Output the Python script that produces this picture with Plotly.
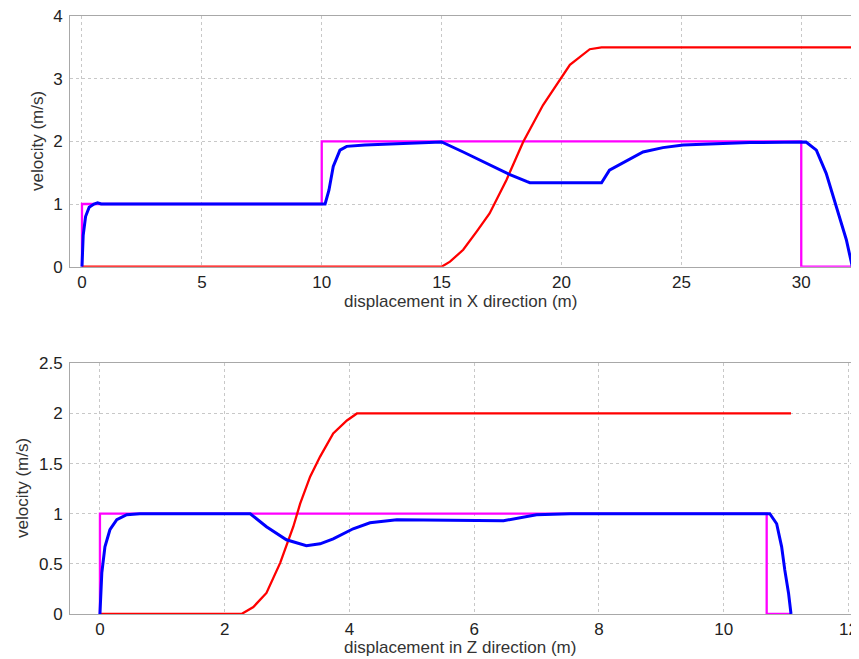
import plotly.graph_objects as go

# ---- Top panel (X direction) ----
x_ref_top = [0, 0, 10, 10, 30, 30, 32.15]
v_ref_top = [0, 1, 1, 2, 2, 0, 0]

x_red_top = [0, 15.0, 15.35, 15.9, 16.46, 17.0, 17.7, 18.4, 19.23, 20.07, 20.35, 21.18, 21.67, 32.15]
v_red_top = [0, 0, 0.08, 0.27, 0.56, 0.85, 1.38, 1.99, 2.58, 3.06, 3.22, 3.47, 3.5, 3.5]

x_blue_top = [0, 0.02, 0.05, 0.15, 0.3, 0.5, 0.65, 0.8, 10.14, 10.3, 10.48, 10.76, 11.04, 11.8, 14.5, 15.0,
              15.9, 16.6, 17.29, 17.85, 18.54, 18.68, 21.67, 22.0, 23.4, 24.23, 25.07, 27.85, 30.2, 30.63,
              31.04, 31.46, 31.88, 32.13]
v_blue_top = [0, 0.3, 0.5, 0.8, 0.95, 1.0, 1.02, 1.0, 1.0, 1.22, 1.6, 1.86, 1.92, 1.94, 1.98, 1.99,
              1.83, 1.70, 1.57, 1.47, 1.36, 1.34, 1.34, 1.54, 1.83, 1.90, 1.94, 1.98, 1.99, 1.86,
              1.49, 0.96, 0.43, 0.0]

# ---- Bottom panel (Z direction) ----
x_ref_bot = [0, 0, 10.69, 10.69, 11.07]
v_ref_bot = [0, 1, 1, 0, 0]

x_red_bot = [0, 2.27, 2.46, 2.67, 2.89, 3.10, 3.21, 3.37, 3.53, 3.74, 3.96, 4.12, 11.08]
v_red_bot = [0, 0, 0.07, 0.21, 0.51, 0.87, 1.10, 1.37, 1.57, 1.80, 1.93, 2.0, 2.0]

x_blue_bot = [0, 0.01, 0.03, 0.08, 0.16, 0.27, 0.43, 0.64, 2.41, 2.67, 2.99, 3.31, 3.53, 3.74, 4.06, 4.33,
              4.76, 6.47, 7.0, 7.54, 10.74, 10.85, 10.93, 10.98, 11.04, 11.08]
v_blue_bot = [0, 0.2, 0.41, 0.67, 0.84, 0.94, 0.99, 1.0, 1.0, 0.87, 0.74, 0.68, 0.70, 0.75, 0.85, 0.91,
              0.94, 0.93, 0.99, 1.0, 1.0, 0.90, 0.67, 0.44, 0.21, 0.0]

x_ticks_top = [0, 5, 10, 15, 20, 25, 30]
y_ticks_top = [0, 1, 2, 3, 4]
x_ticks_bot = [0, 2, 4, 6, 8, 10, 12]
y_ticks_bot = [0, 0.5, 1, 1.5, 2, 2.5]

MAG = "#ff00ff"
RED = "#ff0000"
BLUE = "#0000ff"

fig = go.Figure()
for xs, ys, c, w, xa, ya in [
    (x_ref_top, v_ref_top, MAG, 2.3, "x", "y"),
    (x_red_top, v_red_top, RED, 2.3, "x", "y"),
    (x_blue_top, v_blue_top, BLUE, 3, "x", "y"),
    (x_ref_bot, v_ref_bot, MAG, 2.3, "x2", "y2"),
    (x_red_bot, v_red_bot, RED, 2.3, "x2", "y2"),
    (x_blue_bot, v_blue_bot, BLUE, 3, "x2", "y2"),
]:
    fig.add_trace(go.Scatter(x=xs, y=ys, mode="lines", line=dict(color=c, width=w),
                             xaxis=xa, yaxis=ya, showlegend=False, hoverinfo="skip"))

# page has an 8px body margin: figure is offset by 8px
OFF = 8
W, H = 859 - OFF, 659 - OFF
L, T = 70 - OFF, 16 - OFF
R = W - (854 - OFF)
B = H - (614 - OFF)
PW, PH = W - L - R, H - T - B


def py(ypix):
    return (H - B - (ypix - OFF)) / PH


def px(xpix):
    return (xpix - OFF - L) / PW


top_dom = [py(266.7), 1.0]
bot_dom = [0.0, py(363.3)]

ax_common = dict(showgrid=True, gridcolor="#c8c8c8", griddash="dot", gridwidth=1,
                 showline=True, linecolor="#a8a8a8", linewidth=1, mirror=True,
                 zeroline=False, ticks="", ticklen=0, automargin=False,
                 ticklabeloverflow="allow",
                 tickfont=dict(family="Arial, Liberation Sans", size=17, color="#222"))

fig.update_layout(
    width=W, height=H,
    margin=dict(l=L, r=R, t=T, b=B),
    paper_bgcolor="white", plot_bgcolor="white",
    xaxis=dict(domain=[0, 1], range=[-0.5, 32.2], tickvals=x_ticks_top, anchor="y",
               ticklabelstandoff=0, **ax_common),
    yaxis=dict(domain=top_dom, range=[0, 4], tickvals=y_ticks_top, anchor="x",
               ticklabelstandoff=3, **ax_common),
    xaxis2=dict(domain=[0, 1], range=[-0.48, 12.09], tickvals=x_ticks_bot, anchor="y2",
                ticklabelstandoff=0, **ax_common),
    yaxis2=dict(domain=bot_dom, range=[0, 2.5], tickvals=y_ticks_bot, anchor="x2",
                ticklabelstandoff=3, **ax_common),
)

lab_font = dict(family="Arial, Liberation Sans", size=17, color="#333")
for txt, xp, yp, ang in [
    ("displacement in X direction (m)", 460, 301, 0),
    ("velocity (m/s)", 37, 141, -90),
    ("displacement in Z direction (m)", 460, 647, 0),
    ("velocity (m/s)", 22, 488, -90),
]:
    fig.add_annotation(text=txt, x=px(xp), y=py(yp), textangle=ang, xanchor="center", yanchor="middle",
                       xref="paper", yref="paper", showarrow=False, font=lab_font)

fig.write_html("out.html")
